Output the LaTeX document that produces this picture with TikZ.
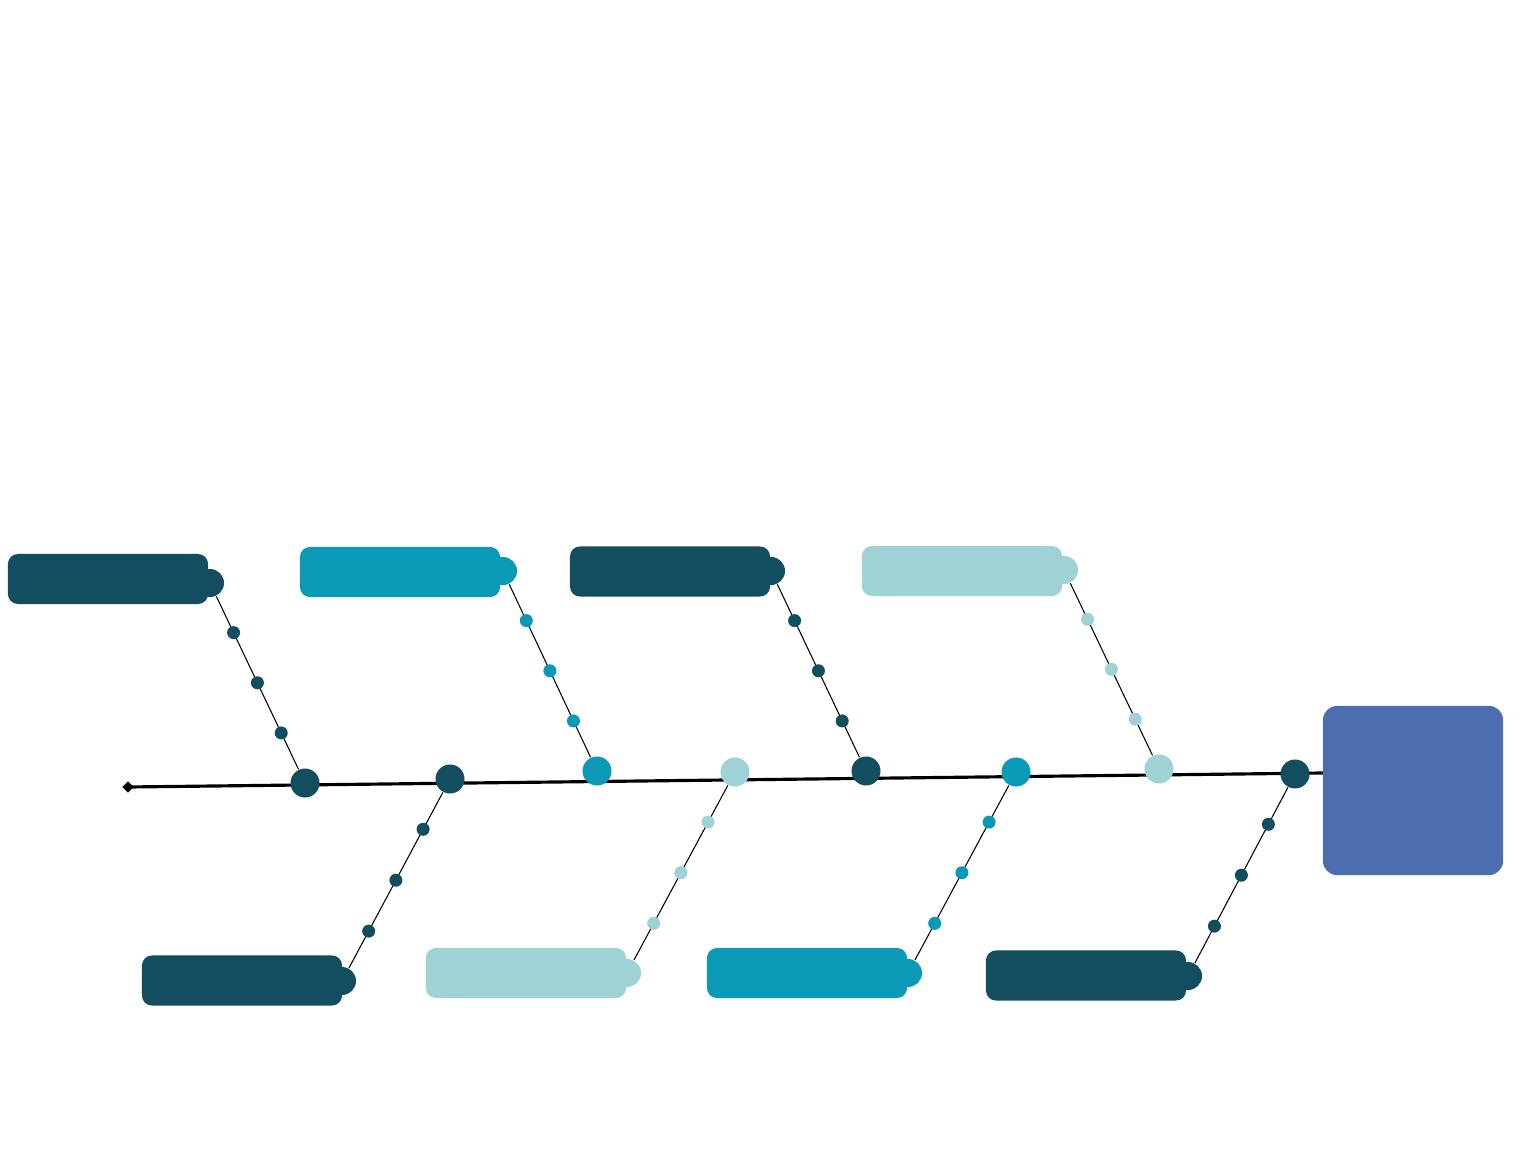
\documentclass[tikz,border=0pt]{standalone}
\usepackage{xcolor}
\usepackage{tikz}
\usetikzlibrary{positioning,shapes.geometric}

\definecolor{fbdark}{HTML}{134D60}
\definecolor{fbteal}{HTML}{0A9AB7}
\definecolor{fblight}{HTML}{9ED2D5}
\definecolor{fbhead}{HTML}{4C6DAF}

\begin{document}
\begin{tikzpicture}[x=0.01cm, y=-0.01cm,
    lbl/.style={rounded corners=0.1cm, minimum width=2cm, minimum height=0.5cm, inner sep=0pt, fill=#1},
    cap/.style={circle, inner sep=0pt, minimum size=0.28cm, fill=#1},
    jnt/.style={circle, inner sep=0pt, minimum size=0.29cm, fill=#1},
    pip/.style={circle, inner sep=0pt, minimum size=0.13cm, fill=#1},
    bone/.style={line width=0.3pt},
    spine/.style={line width=0.9pt}
  ]
  \useasboundingbox (0,0) rectangle (1537,1152);

  % ---------------- spine and head ----------------
  \node[diamond, fill=black, inner sep=0pt, minimum size=0.12cm] (tail) at (128,787) {};
  \coordinate (neck) at (1323,773);
  \draw[spine] (tail.center) -- (neck);
  \node[rounded corners=0.14cm, minimum width=1.8cm, minimum height=1.69cm, inner sep=0pt, fill=fbhead] (head) at (1413,790.5) {};

  % ---------------- upper causes ----------------
  \node[lbl=fbdark]  (t1) at (108,579) {};
  \node[cap=fbdark]  (t1c) at (210,583) {};
  \node[jnt=fbdark]  (t1j) at (305,783) {};
  \node[lbl=fbteal]  (t2) at (400,572) {};
  \node[cap=fbteal]  (t2c) at (503,571) {};
  \node[jnt=fbteal]  (t2j) at (597,771) {};
  \node[lbl=fbdark]  (t3) at (670,571.5) {};
  \node[cap=fbdark]  (t3c) at (771,571) {};
  \node[jnt=fbdark]  (t3j) at (866,771) {};
  \node[lbl=fblight] (t4) at (962,571) {};
  \node[cap=fblight] (t4c) at (1064,570) {};
  \node[jnt=fblight] (t4j) at (1159,769) {};

  \draw[bone] (t1c) -- node[pip=fbdark, pos=.21] (t1a) {} node[pip=fbdark, pos=.5] (t1b) {} node[pip=fbdark, pos=.79] (t1d) {} (t1j);
  \draw[bone] (t2c) -- node[pip=fbteal, pos=.21] (t2a) {} node[pip=fbteal, pos=.5] (t2b) {} node[pip=fbteal, pos=.79] (t2d) {} (t2j);
  \draw[bone] (t3c) -- node[pip=fbdark, pos=.21] (t3a) {} node[pip=fbdark, pos=.5] (t3b) {} node[pip=fbdark, pos=.79] (t3d) {} (t3j);
  \draw[bone] (t4c) -- node[pip=fblight, pos=.21] (t4a) {} node[pip=fblight, pos=.5] (t4b) {} node[pip=fblight, pos=.79] (t4d) {} (t4j);

  % ---------------- lower causes ----------------
  \node[lbl=fbdark]  (b1) at (242,980.5) {};
  \node[cap=fbdark]  (b1c) at (342,981) {};
  \node[jnt=fbdark]  (b1j) at (450,779) {};
  \node[lbl=fblight] (b2) at (526,973) {};
  \node[cap=fblight] (b2c) at (627,973) {};
  \node[jnt=fblight] (b2j) at (735,772) {};
  \node[lbl=fbteal]  (b3) at (807,973) {};
  \node[cap=fbteal]  (b3c) at (908,973) {};
  \node[jnt=fbteal]  (b3j) at (1016,772) {};
  \node[lbl=fbdark]  (b4) at (1086,975.5) {};
  \node[cap=fbdark]  (b4c) at (1188,976) {};
  \node[jnt=fbdark]  (b4j) at (1295,774) {};

  \draw[bone] (b1j) -- node[pip=fbdark, pos=.21] (b1a) {} node[pip=fbdark, pos=.5] (b1b) {} node[pip=fbdark, pos=.79] (b1d) {} (b1c);
  \draw[bone] (b2j) -- node[pip=fblight, pos=.21] (b2a) {} node[pip=fblight, pos=.5] (b2b) {} node[pip=fblight, pos=.79] (b2d) {} (b2c);
  \draw[bone] (b3j) -- node[pip=fbteal, pos=.21] (b3a) {} node[pip=fbteal, pos=.5] (b3b) {} node[pip=fbteal, pos=.79] (b3d) {} (b3c);
  \draw[bone] (b4j) -- node[pip=fbdark, pos=.21] (b4a) {} node[pip=fbdark, pos=.5] (b4b) {} node[pip=fbdark, pos=.79] (b4d) {} (b4c);
\end{tikzpicture}
\end{document}
